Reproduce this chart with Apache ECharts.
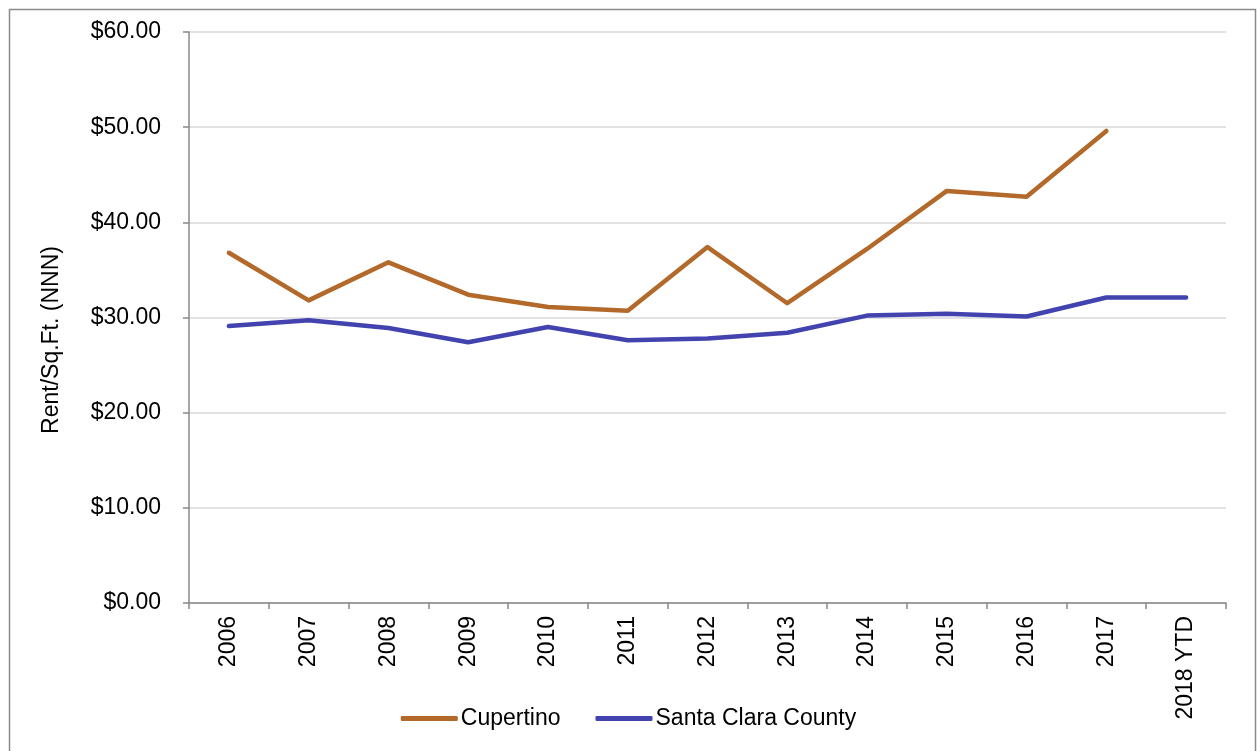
<!DOCTYPE html>
<html>
<head>
<meta charset="utf-8">
<script src="https://cdn.jsdelivr.net/npm/echarts@6/dist/echarts.min.js"></script>
<style>html,body{margin:0;padding:0;background:#fff;}#c{width:1257px;height:751px;}</style>
</head>
<body>
<div id="c"></div>
<script>
const categories = ['2006','2007','2008','2009','2010','2011','2012','2013','2014','2015','2016','2017','2018 YTD'];
const cupertino = [36.8, 31.8, 35.8, 32.4, 31.1, 30.7, 37.4, 31.5, 37.2, 43.3, 42.7, 49.6, null];
const santaClara = [29.1, 29.7, 28.9, 27.4, 29.0, 27.6, 27.8, 28.4, 30.2, 30.4, 30.1, 32.1, 32.1];
const yTicks = { min: 0, max: 60, interval: 10 };
const yTitle = 'Rent/Sq.Ft. (NNN)';

const FONT = '"Liberation Sans", Arial, sans-serif';
const chart = echarts.init(document.getElementById('c'), null, { renderer: 'canvas' });
chart.setOption({
  animation: false,
  backgroundColor: '#fff',
  textStyle: { fontFamily: FONT },
  graphic: [{
    type: 'rect', left: 7, top: 7,
    shape: { x: 0.5, y: 0.5, width: 1246, height: 780 },
    style: { fill: 'none', stroke: '#8a8a8a', lineWidth: 1.5 },
    silent: true
  }, {
    type: 'text', x: 52, y: 340, rotation: Math.PI / 2,
    style: { text: yTitle, fontSize: 23, fill: '#000', fontFamily: FONT, align: 'center', verticalAlign: 'middle' },
    silent: true
  }],
  grid: { left: 189, right: 31, top: 32, bottom: 148, containLabel: false },
  legend: {
    bottom: 16, left: 'center',
    itemWidth: 57, itemHeight: 5, itemGap: 35,
    icon: 'roundRect',
    textStyle: { fontSize: 23, color: '#000', fontFamily: FONT, padding: [0, 0, 0, -2] },
    data: ['Cupertino', 'Santa Clara County']
  },
  xAxis: {
    type: 'category', data: categories, boundaryGap: true,
    axisLine: { lineStyle: { color: '#888', width: 1.5 } },
    axisTick: { show: true, length: 6, alignWithLabel: false, lineStyle: { color: '#888', width: 1.5 } },
    axisLabel: { rotate: 90, fontSize: 23, color: '#000', margin: 13, fontFamily: FONT, interval: 0 }
  },
  yAxis: {
    type: 'value', min: yTicks.min, max: yTicks.max, interval: yTicks.interval,
    axisLine: { show: true, lineStyle: { color: '#888', width: 1.5 } },
    axisTick: { show: true, length: 6, lineStyle: { color: '#888', width: 1.5 } },
    axisLabel: { fontSize: 23, color: '#000', margin: 28, fontFamily: FONT,
      formatter: v => '$' + v.toFixed(2) },
    splitLine: { show: true, lineStyle: { color: '#d9d9d9', width: 1.5 } }
  },
  series: [
    { name: 'Cupertino', type: 'line', data: cupertino, showSymbol: false, symbol: 'none',
      lineStyle: { color: '#B2692A', width: 4.5, cap: 'round', join: 'round' }, itemStyle: { color: '#B2692A' } },
    { name: 'Santa Clara County', type: 'line', data: santaClara, showSymbol: false, symbol: 'none',
      lineStyle: { color: '#4343B0', width: 4.5, cap: 'round', join: 'round' }, itemStyle: { color: '#4343B0' } }
  ]
});
</script>
</body>
</html>
